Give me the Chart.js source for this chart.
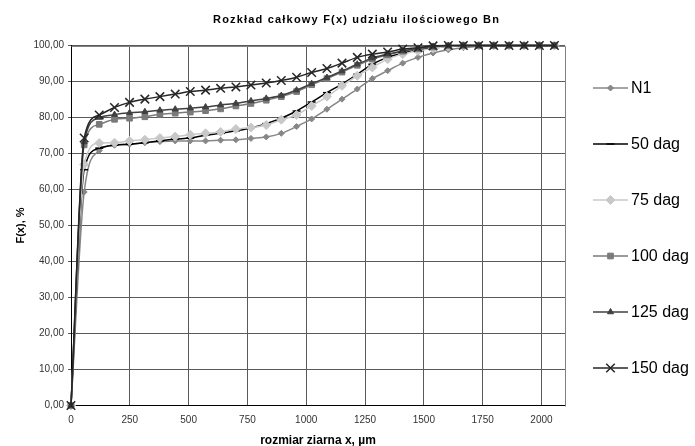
<!DOCTYPE html>
<html>
<head>
<meta charset="utf-8">
<script src="https://cdn.jsdelivr.net/npm/chart.js@4.4.1/dist/chart.umd.min.js"></script>
<style>
  body { margin: 0; background: #fff; }
  canvas { display: block; }
</style>
</head>
<body>
<canvas id="chart" width="695" height="446"></canvas>
<script>
// rozmiar ziarna x, um
const sizes = [0, 56, 120, 185, 249, 314, 378, 443, 507, 572, 636, 701, 765, 830, 894, 959, 1023,
  1088, 1152, 1217, 1281, 1346, 1410, 1475, 1539, 1604, 1668, 1733, 1797, 1862, 1926, 1991, 2055]

// F(x), %
const n1 = [0, 59.3, 70.8, 72.3, 72.6, 73.0, 73.3, 73.5, 73.5, 73.5, 73.7, 73.8, 74.2, 74.6, 75.6, 77.5, 79.6,
  82.3, 85.1, 87.9, 90.8, 93.0, 95.1, 96.7, 97.9, 98.8, 99.4, 99.8, 100, 100, 100, 100, 100]
const dag50 = [0, 65.5, 71.5, 72.3, 72.6, 73.0, 73.5, 74.0, 74.3, 75.1, 75.6, 76.3, 77.1, 78.3, 79.8, 81.8, 84.3,
  86.9, 89.3, 92.0, 94.8, 96.7, 97.9, 98.8, 99.3, 99.7, 100, 100, 100, 100, 100, 100, 100]
const dag75 = [0, 67.0, 72.9, 73.0, 73.5, 73.8, 74.3, 74.7, 75.2, 75.6, 76.0, 76.8, 77.2, 77.9, 79.4, 80.7, 83.2,
  85.8, 88.8, 91.6, 93.9, 96.2, 97.6, 98.5, 99.2, 99.7, 100, 100, 100, 100, 100, 100, 100]
const dag100 = [0, 72.4, 78.1, 79.5, 79.8, 80.2, 80.9, 81.2, 81.5, 81.9, 82.4, 83.2, 83.9, 84.8, 85.8, 87.2, 89.1,
  90.8, 92.6, 94.5, 96.2, 97.4, 98.4, 99.1, 99.6, 99.9, 100, 100, 100, 100, 100, 100, 100]
const dag125 = [0, 73.2, 80.0, 80.8, 81.3, 81.6, 82.0, 82.3, 82.6, 82.9, 83.5, 83.9, 84.6, 85.3, 86.1, 87.6, 89.4,
  91.1, 92.9, 94.8, 96.5, 97.6, 98.5, 99.2, 99.7, 100, 100, 100, 100, 100, 100, 100, 100]
const dag150 = [0, 74.3, 80.7, 82.8, 84.2, 85.1, 85.8, 86.5, 87.2, 87.6, 88.1, 88.5, 89.0, 89.6, 90.3, 91.2, 92.5,
  93.6, 95.1, 96.7, 97.6, 98.2, 99.0, 99.4, 99.9, 100, 100, 100, 100, 100, 100, 100, 100]

const seriesNames = ['N1', '50 dag', '75 dag', '100 dag', '125 dag', '150 dag']
const seriesValues = [n1, dag50, dag75, dag100, dag125, dag150]
const titleText = 'Rozkład całkowy F(x) udziału ilościowego Bn'

// wyglad serii (styl Excela)
const styles = [
  { color: '#878787', pointStyle: 'rectRot', radius: 3, borderWidth: 1 },
  { color: '#000000', pointStyle: 'line', radius: 4, borderWidth: 1.5 },
  { color: '#c8c8c8', pointStyle: 'rectRot', radius: 4.5, borderWidth: 1 },
  { color: '#7a7a7a', pointStyle: 'rect', radius: 4, borderWidth: 1 },
  { color: '#404040', pointStyle: 'triangle', radius: 3.5, borderWidth: 1 },
  { color: '#262626', pointStyle: 'crossRot', radius: 6, borderWidth: 1.5 }
]

const font = '"Liberation Sans", Arial, sans-serif'
const fmt = v => v.toFixed(2).replace('.', ',')

const datasets = seriesNames.map((name, i) => ({
  label: name,
  data: sizes.map((x, j) => ({ x: x, y: seriesValues[i][j] })),
  showLine: true,
  cubicInterpolationMode: 'monotone',
  borderColor: styles[i].color,
  backgroundColor: styles[i].color,
  borderWidth: 1.5,
  pointStyle: styles[i].pointStyle,
  pointRadius: styles[i].radius,
  pointBorderWidth: styles[i].borderWidth,
  pointBorderColor: styles[i].color,
  pointBackgroundColor: styles[i].color,
  clip: false,
  order: seriesNames.length - i
}))

// tytul, ramka obszaru wykresu i legenda po prawej
const decor = {
  id: 'decor',
  beforeDatasetsDraw(chart) {
    const { ctx, chartArea: a } = chart
    ctx.save()
    ctx.strokeStyle = '#808080'
    ctx.lineWidth = 1
    ctx.beginPath()
    ctx.moveTo(Math.round(a.left) + 0.5, Math.round(a.top) + 0.5)
    ctx.lineTo(Math.round(a.right) + 0.5, Math.round(a.top) + 0.5)
    ctx.lineTo(Math.round(a.right) + 0.5, Math.round(a.bottom) + 0.5)
    ctx.stroke()
    ctx.restore()
  },
  afterDraw(chart) {
    const { ctx } = chart
    ctx.save()
    ctx.fillStyle = '#000'
    ctx.textBaseline = 'middle'
    ctx.textAlign = 'left'
    ctx.font = 'bold 11px ' + font
    const w = ctx.measureText(titleText).width
    ctx.letterSpacing = ((287 - w) / titleText.length).toFixed(2) + 'px'
    ctx.fillText(titleText, 213, 20)
    ctx.letterSpacing = '0px'

    ctx.font = '16px ' + font
    styles.forEach((s, i) => {
      const y = 88 + 56 * i
      ctx.strokeStyle = s.color
      ctx.fillStyle = s.color
      ctx.lineWidth = 1.5
      ctx.beginPath()
      ctx.moveTo(593, y)
      ctx.lineTo(628, y)
      ctx.stroke()
      ctx.lineWidth = s.borderWidth
      Chart.helpers.drawPoint(ctx, { pointStyle: s.pointStyle, radius: s.radius, rotation: 0, borderWidth: s.borderWidth }, 610.5, y)
      ctx.fillStyle = '#000'
      ctx.fillText(seriesNames[i], 631, y + 1)
    })
    ctx.restore()
  }
}

new Chart(document.getElementById('chart'), {
  type: 'scatter',
  data: { datasets: datasets },
  options: {
    responsive: false,
    animation: false,
    devicePixelRatio: 1,
    layout: { padding: { top: 45.5, right: 130, left: 0, bottom: 0 } },
    plugins: {
      legend: { display: false },
      title: { display: false },
      tooltip: { enabled: false }
    },
    scales: {
      x: {
        type: 'linear',
        min: 0,
        max: 2100,
        afterFit: scale => { scale.height = 40.5 },
        ticks: {
          stepSize: 250,
          includeBounds: false,
          padding: 9,
          maxRotation: 0,
          color: '#333',
          font: { family: font, size: 10 },
          callback: v => String(v)
        },
        grid: { color: '#5a5a5a', drawTicks: false },
        border: { color: '#000', width: 1 },
        title: {
          display: true,
          text: 'rozmiar ziarna x, µm',
          color: '#000',
          font: { family: font, size: 12, weight: 'bold', lineHeight: 1 },
          padding: { top: 0, bottom: -0.5 }
        }
      },
      y: {
        type: 'linear',
        min: 0,
        max: 100,
        afterFit: scale => { scale.width = 71 },
        ticks: {
          stepSize: 10,
          padding: 4,
          color: '#333',
          font: { family: font, size: 10 },
          callback: v => fmt(v)
        },
        grid: { color: '#5a5a5a', tickLength: 3 },
        border: { color: '#000', width: 1 },
        title: {
          display: true,
          text: 'F(x), %',
          color: '#000',
          font: { family: font, size: 11, weight: 'bold' },
          padding: { top: 14, bottom: 0 }
        }
      }
    }
  },
  plugins: [decor]
})
</script>
</body>
</html>
